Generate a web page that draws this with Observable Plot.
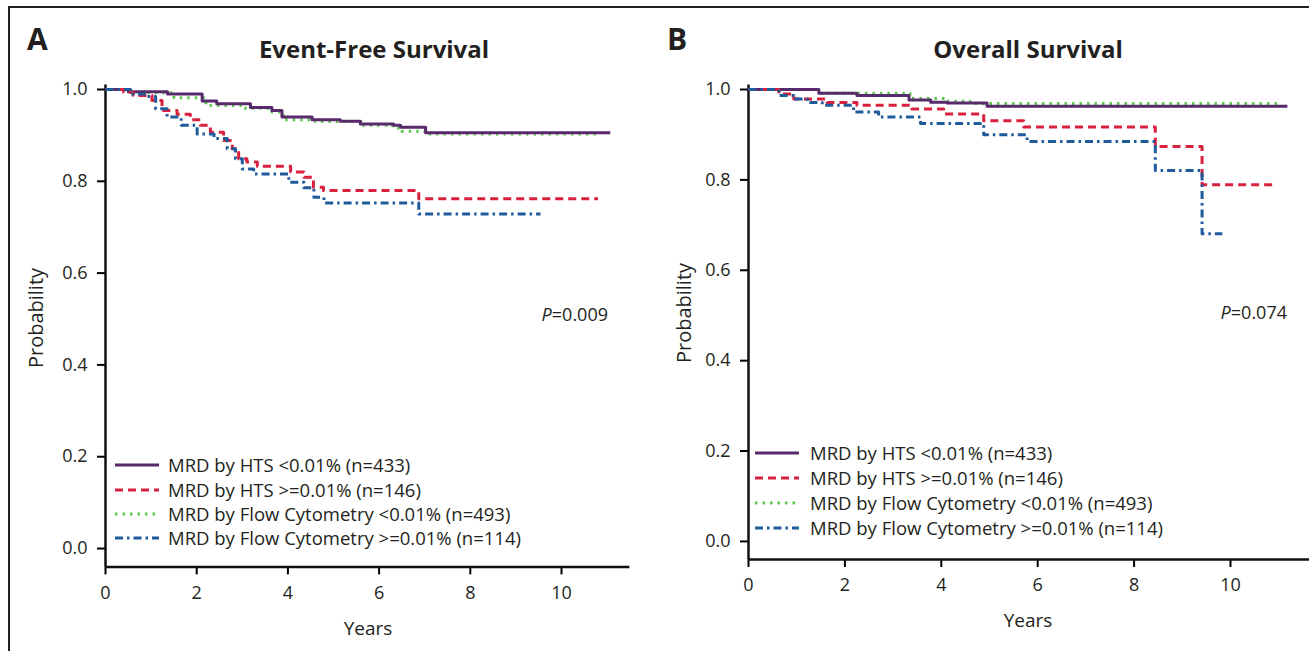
<!DOCTYPE html>
<html>
<head>
<meta charset="utf-8">
<script src="https://cdn.jsdelivr.net/npm/d3@7"></script>
<script src="https://cdn.jsdelivr.net/npm/@observablehq/plot@0.6"></script>
<style>
  body { margin: 0; background: #fff; }
  #wrap { position: relative; width: 1309px; height: 651px; overflow: hidden; background: #fff; }
  #wrap > svg { position: absolute; }
  .frame { position: absolute; left: 8px; top: 6px; width: 1320px; height: 700px; border-left: 2px solid #222; border-top: 2px solid #222; box-sizing: border-box; }
</style>
</head>
<body>
<div id="wrap"><div class="frame"></div></div>
<script>
// ---------- data ----------
const seriesLabels = [
  "MRD by HTS <0.01% (n=433)",
  "MRD by HTS >=0.01% (n=146)",
  "MRD by Flow Cytometry <0.01% (n=493)",
  "MRD by Flow Cytometry >=0.01% (n=114)"
];
const seriesColors = ["#58296b", "#d9213f", "#5ec84e", "#1f5a9a"];
const seriesDash = [null, "8,5", "2.5,5", "8,4,2.5,4"];

const xTicks = [0, 2, 4, 6, 8, 10];
const yTicks = [0, 0.2, 0.4, 0.6, 0.8, 1.0];

// Panel A: Event-Free Survival
const efsHtsNegT = [0, 0.5, 1.36, 2.12, 2.44, 3.18, 3.65, 3.87, 4.53, 5.15, 5.59, 6.32, 6.47, 7.02, 11.07];
const efsHtsNegS = [1.0, 0.995, 0.99, 0.975, 0.969, 0.961, 0.954, 0.94, 0.934, 0.931, 0.925, 0.922, 0.918, 0.906, 0.906];
const efsHtsPosT = [0, 0.4, 0.61, 1.02, 1.24, 1.57, 1.86, 2.08, 2.3, 2.59, 2.78, 2.92, 3.1, 3.33, 4.06, 4.35, 4.56, 4.78, 6.87, 10.8];
const efsHtsPosS = [1.0, 0.994, 0.987, 0.976, 0.954, 0.946, 0.934, 0.922, 0.907, 0.889, 0.871, 0.849, 0.842, 0.833, 0.82, 0.809, 0.787, 0.78, 0.762, 0.762];
const efsFcNegT = [0, 0.6, 1.5, 2.2, 3.0, 3.65, 3.9, 4.6, 5.6, 6.3, 6.5, 7.0, 10.85];
const efsFcNegS = [1.0, 0.993, 0.982, 0.965, 0.959, 0.951, 0.934, 0.93, 0.922, 0.916, 0.909, 0.903, 0.903];
const efsFcPosT = [0, 0.55, 0.91, 1.1, 1.35, 1.66, 2.01, 2.38, 2.67, 2.85, 3.0, 3.25, 4.02, 4.35, 4.57, 4.79, 6.87, 9.54];
const efsFcPosS = [1.0, 0.99, 0.985, 0.958, 0.94, 0.922, 0.903, 0.893, 0.871, 0.849, 0.827, 0.816, 0.798, 0.786, 0.765, 0.753, 0.729, 0.729];

// Panel B: Overall Survival
const osHtsNegT = [0, 1.46, 2.25, 3.33, 3.78, 4.12, 4.95, 11.18];
const osHtsNegS = [1.0, 0.992, 0.987, 0.977, 0.972, 0.97, 0.963, 0.963];
const osHtsPosT = [0, 0.63, 0.94, 1.63, 2.25, 3.39, 4.05, 4.88, 5.71, 8.44, 9.41, 10.93];
const osHtsPosS = [1.0, 0.99, 0.979, 0.971, 0.965, 0.957, 0.946, 0.931, 0.917, 0.874, 0.789, 0.789];
const osFcNegT = [0, 1.5, 3.35, 4.12, 4.6, 11.04];
const osFcNegS = [1.0, 0.992, 0.98, 0.974, 0.969, 0.969];
const osFcPosT = [0, 0.63, 0.94, 1.22, 1.53, 2.18, 2.7, 3.57, 4.88, 5.78, 8.44, 9.41, 9.83];
const osFcPosS = [1.0, 0.987, 0.979, 0.971, 0.965, 0.95, 0.939, 0.925, 0.9, 0.885, 0.821, 0.681, 0.681];

const panelTitles = ["Event-Free Survival", "Overall Survival"];
const panelLetters = ["A", "B"];
const pValues = ["0.009", "0.074"];

// ---------- drawing ----------
const FONT = "'Open Sans', sans-serif";
const wrap = document.getElementById("wrap");

function rows(t, s) { return t.map((d, i) => ({t: d, s: s[i]})); }

function panel(cfg) {
  const series = cfg.series;
  const marks = [
    Plot.axisX({ticks: xTicks, tickSize: 8, tickPadding: 11, strokeWidth: 2, label: null, fill: "#231f20"}),
    Plot.axisY({ticks: yTicks, tickSize: 8, tickPadding: 10, strokeWidth: 2, label: null, tickFormat: d => d.toFixed(1), fill: "#231f20"}),
    Plot.ruleX([0], {stroke: "#111", strokeWidth: 2.5}),
    Plot.ruleY([cfg.yMin], {stroke: "#111", strokeWidth: 2.5})
  ];
  // draw order: green dotted under purple
  const order = [2, 0, 1, 3];
  for (const i of order) {
    const [t, s] = series[i];
    marks.push(Plot.line(rows(t, s), {
      x: "t", y: "s", curve: "step-after",
      stroke: seriesColors[i], strokeWidth: 3,
      strokeDasharray: seriesDash[i] || undefined,
      strokeLinecap: "butt"
    }));
  }
  const svg = Plot.plot({
    width: cfg.width, height: cfg.height,
    marginLeft: cfg.ml, marginRight: cfg.mr, marginTop: cfg.mt, marginBottom: cfg.mb,
    x: {domain: [0, cfg.xMax]},
    y: {domain: [cfg.yMin, 1.01]},
    style: {fontFamily: FONT, fontSize: "18px", background: "transparent", overflow: "visible"},
    marks
  });
  svg.style.left = cfg.left + "px";
  svg.style.top = "0px";
  wrap.appendChild(svg);
}

panel({
  left: 0, width: 650, height: 651, ml: 105, mr: 650 - (105 + 11.5 * 45.6), mt: 84.4, mb: 651 - 566.4,
  xMax: 11.5, yMin: -0.04,
  series: [[efsHtsNegT, efsHtsNegS], [efsHtsPosT, efsHtsPosS], [efsFcNegT, efsFcNegS], [efsFcPosT, efsFcPosS]]
});
panel({
  left: 650, width: 690, height: 651, ml: 98, mr: 690 - (98 + 12 * 48.2), mt: 84.5, mb: 651 - 559,
  xMax: 12, yMin: -0.04,
  series: [[osHtsNegT, osHtsNegS], [osHtsPosT, osHtsPosS], [osFcNegT, osFcNegS], [osFcPosT, osFcPosS]]
});

// ---------- text overlay ----------
const ov = d3.select(wrap).append("svg")
  .attr("width", 1309).attr("height", 651)
  .style("left", "0px").style("top", "0px")
  .style("font-family", FONT).style("fill", "#231f20");

const layout = [
  {letterX: 27, titleX: 374, ylabX: 43, ylabY: 318, yearsX: 368, yearsY: 635, pX: 608, pY: 321,
   legX: 115, legTextX: 168, legY: [465, 490, 514, 538]},
  {letterX: 667, titleX: 1028, ylabX: 691, ylabY: 313, yearsX: 1028, yearsY: 627, pX: 1287, pY: 319,
   legX: 755, legTextX: 810, legY: [453, 478, 503, 528]}
];

layout.forEach((L, p) => {
  ov.append("text").attr("x", L.letterX).attr("y", 50).attr("font-size", 30).attr("font-weight", 700).text(panelLetters[p]);
  ov.append("text").attr("x", L.titleX).attr("y", 58).attr("font-size", 24).attr("font-weight", 700)
    .attr("text-anchor", "middle").text(panelTitles[p]);
  ov.append("text").attr("transform", `translate(${L.ylabX},${L.ylabY}) rotate(-90)`).attr("font-size", 20)
    .attr("text-anchor", "middle").text("Probability");
  ov.append("text").attr("x", L.yearsX).attr("y", L.yearsY).attr("font-size", 19)
    .attr("text-anchor", "middle").text("Years");
  const pt = ov.append("text").attr("x", L.pX).attr("y", L.pY).attr("font-size", 18).attr("text-anchor", "end");
  pt.append("tspan").attr("font-style", "italic").text("P");
  pt.append("tspan").text("=" + pValues[p]);
  seriesLabels.forEach((lab, i) => {
    const y = L.legY[i];
    ov.append("line").attr("x1", L.legX).attr("x2", L.legX + 44).attr("y1", y).attr("y2", y)
      .attr("stroke", seriesColors[i]).attr("stroke-width", 3)
      .attr("stroke-dasharray", seriesDash[i]);
    ov.append("text").attr("x", L.legTextX).attr("y", y + 6.5).attr("font-size", 18.5).text(lab);
  });
});
</script>
</body>
</html>
